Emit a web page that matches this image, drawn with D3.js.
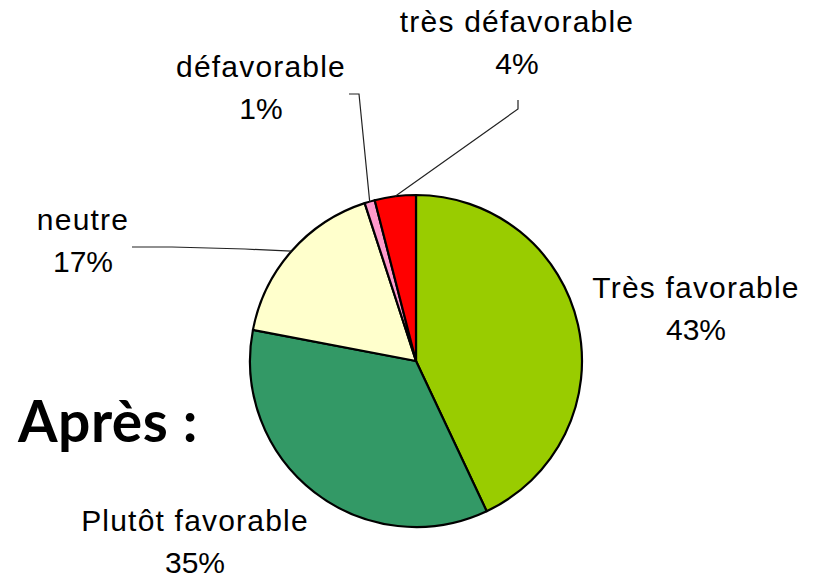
<!DOCTYPE html>
<html>
<head>
<meta charset="utf-8">
<script src="https://cdn.jsdelivr.net/npm/d3@7"></script>
<style>
  html, body { margin: 0; padding: 0; background: #fff; }
  svg { display: block; }
</style>
</head>
<body>
<svg id="chart" width="813" height="580"></svg>
<script>
// ---- data ----
const categories = ["Très favorable", "Plutôt favorable", "neutre", "défavorable", "très défavorable"];
const values = [43, 35, 17, 1, 4];
const colors = ["#99cc00", "#339966", "#ffffcc", "#ff99cc", "#ff0000"];
const title = "Après :";

// ---- layout (label anchors: [x, baseline of first line], leader elbow points) ----
const labelPos = [
  { x: 696, y: 298, leader: null },
  { x: 195, y: 531, leader: null },
  { x: 83,  y: 230, leader: [[132, 247], [172, 247], [245, 249]] },
  { x: 261, y: 77,  leader: [[349, 94], [359, 94]] },
  { x: 517, y: 32,  leader: [[518, 100], [518, 109]] }
];

const svg = d3.select("#chart");
const cx = 416, cy = 361, r = 166;

const pie = d3.pie().sort(null).value(d => d.v);
const data = pie(categories.map((c, i) => ({ c, v: values[i], i })));
const arc = d3.arc().innerRadius(0).outerRadius(r);

const g = svg.append("g").attr("transform", `translate(${cx},${cy})`);
g.selectAll("path.slice")
  .data(data)
  .join("path")
  .attr("class", "slice")
  .attr("d", arc)
  .attr("fill", d => colors[d.data.i])
  .attr("stroke", "#000")
  .attr("stroke-width", 2.2)
  .attr("stroke-linejoin", "round");

// leader lines
data.forEach(d => {
  const lp = labelPos[d.data.i];
  if (!lp.leader) return;
  const mid = (d.startAngle + d.endAngle) / 2;
  const ex = cx + r * Math.sin(mid), ey = cy - r * Math.cos(mid);
  const pts = lp.leader.concat([[ex, ey]]);
  svg.append("path")
    .attr("d", d3.line()(pts))
    .attr("fill", "none")
    .attr("stroke", "#222")
    .attr("stroke-width", 1.2);
});

// labels
data.forEach(d => {
  const lp = labelPos[d.data.i];
  const t = svg.append("text")
    .attr("text-anchor", "middle")
    .attr("font-family", "'Liberation Sans', Arial, sans-serif")
    .attr("font-size", 30)
    .attr("fill", "#000");
  t.append("tspan").attr("x", lp.x).attr("y", lp.y)
    .attr("letter-spacing", 1.2)
    .text(d.data.c);
  t.append("tspan").attr("x", lp.x).attr("y", lp.y + 42)
    .text(d.data.v + "%");
});

// title
svg.append("text")
  .attr("x", 18).attr("y", 442)
  .attr("font-family", "Lato, 'Open Sans', sans-serif")
  .attr("font-weight", "bold")
  .attr("font-size", 57)
  .attr("letter-spacing", 0.5)
  .attr("fill", "#000")
  .text(title);
</script>
</body>
</html>
